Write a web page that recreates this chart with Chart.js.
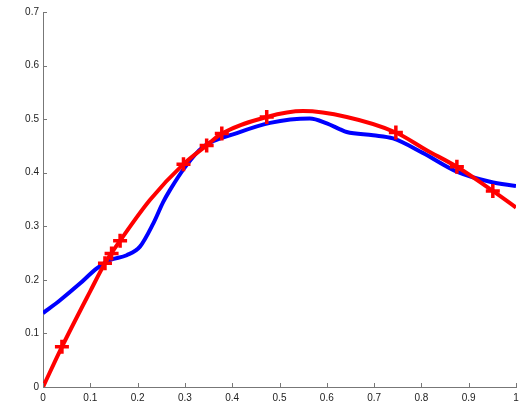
<!DOCTYPE html>
<html>
<head>
<meta charset="utf-8">
<script src="https://cdn.jsdelivr.net/npm/chart.js@4/dist/chart.umd.min.js"></script>
<style>
  html, body { margin: 0; padding: 0; background: #fff; }
  #wrap { width: 530px; height: 401px; }
</style>
</head>
<body>
<div id="wrap"><canvas id="chart" width="530" height="401"></canvas></div>
<script>
// red sample points (the "+" markers)
const markerX = [0.040, 0.131, 0.145, 0.163, 0.297, 0.346, 0.378, 0.473, 0.746, 0.875, 0.951];
const markerY = [0.075, 0.231, 0.249, 0.273, 0.416, 0.451, 0.473, 0.504, 0.475, 0.411, 0.366];

// red smooth curve
const redX = [0, 0.040, 0.100, 0.131, 0.163, 0.226, 0.297, 0.346, 0.378, 0.473, 0.550, 0.642, 0.746, 0.811, 0.875, 0.951, 1.0];
const redY = [0, 0.075, 0.179, 0.231, 0.273, 0.349, 0.416, 0.451, 0.473, 0.504, 0.515, 0.504, 0.475, 0.442, 0.411, 0.366, 0.335];

// blue curve
const blueX = [0, 0.036, 0.078, 0.113, 0.142, 0.177, 0.205, 0.233, 0.254, 0.268, 0.300, 0.338, 0.410, 0.480, 0.564, 0.600, 0.628, 0.642, 0.698, 0.740, 0.803, 0.875, 0.945, 1.0];
const blueY = [0.138, 0.162, 0.193, 0.221, 0.237, 0.246, 0.262, 0.305, 0.345, 0.367, 0.410, 0.448, 0.474, 0.493, 0.501, 0.492, 0.481, 0.476, 0.470, 0.464, 0.437, 0.402, 0.383, 0.375];

const xTicks = [0, 0.1, 0.2, 0.3, 0.4, 0.5, 0.6, 0.7, 0.8, 0.9, 1];
const yTicks = [0, 0.1, 0.2, 0.3, 0.4, 0.5, 0.6, 0.7];

const pts = (xs, ys) => xs.map((x, i) => ({ x: x, y: ys[i] }));

// matlab style ticks pointing into the plot
const innerTicks = {
  id: "innerTicks",
  afterDraw(chart) {
    const ctx = chart.ctx;
    const xs = chart.scales.x, ys = chart.scales.y;
    const area = chart.chartArea;
    ctx.save();
    ctx.strokeStyle = "#777";
    ctx.lineWidth = 1;
    ctx.beginPath();
    xTicks.forEach((t) => {
      const px = Math.round(xs.getPixelForValue(t)) + 0.5;
      ctx.moveTo(px, area.bottom);
      ctx.lineTo(px, area.bottom - 4);
    });
    yTicks.forEach((t) => {
      const py = Math.round(ys.getPixelForValue(t)) + 0.5;
      ctx.moveTo(area.left, py);
      ctx.lineTo(area.left + 4, py);
    });
    ctx.stroke();
    ctx.restore();
  },
};

new Chart(document.getElementById("chart"), {
  type: "line",
  data: {
    datasets: [
      {
        data: pts(markerX, markerY),
        showLine: false,
        pointStyle: "cross",
        pointRadius: 7,
        pointBorderWidth: 3.5,
        pointBorderColor: "#ff0000",
        order: 0,
      },
      {
        data: pts(redX, redY),
        borderColor: "#ff0000",
        borderWidth: 4,
        pointRadius: 0,
        cubicInterpolationMode: "monotone",
        order: 1,
      },
      {
        data: pts(blueX, blueY),
        borderColor: "#0000ff",
        borderWidth: 4,
        pointRadius: 0,
        cubicInterpolationMode: "monotone",
        order: 2,
      },
    ],
  },
  options: {
    responsive: false,
    animation: false,
    layout: { padding: { top: 12, right: 14, left: 0, bottom: 0 } },
    plugins: { legend: { display: false }, tooltip: { enabled: false } },
    scales: {
      x: {
        type: "linear",
        min: 0,
        max: 1,
        afterBuildTicks: (s) => { s.ticks = xTicks.map((v) => ({ value: v })); },
        afterFit: (s) => { s.height = 14; },
        grid: { display: false, drawTicks: false },
        border: { color: "#777" },
        ticks: {
          padding: 5,
          color: "#222",
          font: { family: "Liberation Sans", size: 10 },
          maxRotation: 0,
          callback: (v) => String(v),
        },
      },
      y: {
        type: "linear",
        min: 0,
        max: 0.7,
        afterBuildTicks: (s) => { s.ticks = yTicks.map((v) => ({ value: v })); },
        afterFit: (s) => { s.width = 43; },
        grid: { display: false, drawTicks: false },
        border: { color: "#777" },
        ticks: {
          padding: 4,
          color: "#222",
          font: { family: "Liberation Sans", size: 10 },
          callback: (v) => String(v),
        },
      },
    },
  },
  plugins: [innerTicks],
});
</script>
</body>
</html>
